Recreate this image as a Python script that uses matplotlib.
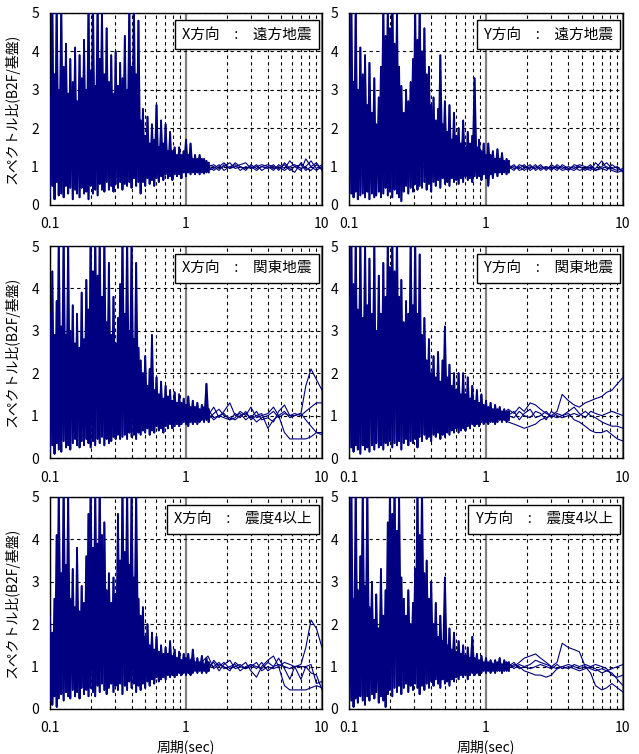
import numpy as np
import matplotlib
matplotlib.use("Agg")
import matplotlib.pyplot as plt
from matplotlib.ticker import LogLocator, NullFormatter, FixedLocator, FixedFormatter

plt.rcParams['font.family'] = ['Noto Sans CJK JP', 'DejaVu Sans']

# short-period grid (dense part) and long-period grid (individual records)
period = [0.100, 0.104, 0.108, 0.112, 0.116, 0.121, 0.126, 0.131, 0.136, 0.141,
          0.147, 0.153, 0.158, 0.165, 0.171, 0.178, 0.185, 0.192, 0.199, 0.207,
          0.215, 0.224, 0.232, 0.241, 0.251, 0.261, 0.271, 0.282, 0.293, 0.304,
          0.316, 0.328, 0.341, 0.355, 0.369, 0.383, 0.398, 0.414, 0.430, 0.447,
          0.464, 0.482, 0.501, 0.521, 0.541, 0.562, 0.584, 0.607, 0.631, 0.656,
          0.681, 0.708, 0.736, 0.764, 0.794, 0.825, 0.858, 0.891, 0.926, 0.962,
          1.000, 1.039, 1.080, 1.122, 1.166, 1.212, 1.259, 1.308, 1.359, 1.413, 1.468]
period_long = [0.9, 1.0, 1.1, 1.2, 1.3, 1.45, 1.6, 1.75, 1.9, 2.1, 2.3, 2.5, 2.75, 3.0,
               3.3, 3.6, 4.0, 4.4, 4.8, 5.3, 5.8, 6.3, 7.0, 7.6, 8.3, 9.1, 10.0]

titles = ["X方向　:　遠方地震", "Y方向　:　遠方地震",
          "X方向　:　関東地震", "Y方向　:　関東地震",
          "X方向　:　震度4以上", "Y方向　:　震度4以上"]

# X 遠方地震
xfar_top = [2.8, 5.2, 3.4, 5.3, 3.0, 5.1, 3.6, 4.2, 2.9, 3.8,
            3.2, 4.1, 2.7, 3.9, 3.3, 4.3, 3.0, 5.2, 3.5, 5.4,
            3.1, 5.3, 3.8, 5.1, 3.4, 4.6, 3.2, 3.9, 2.9, 4.0,
            3.1, 3.7, 3.3, 4.4, 3.0, 5.2, 3.6, 5.3, 3.4, 4.8,
            2.2, 2.5, 1.8, 2.3, 1.6, 2.1, 1.7, 2.6, 1.5, 2.2,
            1.6, 2.1, 1.4, 1.9, 1.4, 1.5, 1.3, 1.5, 1.3, 1.4,
            1.7, 1.3, 1.6, 1.2, 1.3, 1.2, 1.3, 1.2, 1.2, 1.15, 1.1]
xfar_bottom = [0.2, 0.5, 0.15, 0.6, 0.25, 0.3, 0.2, 0.5, 0.3, 0.45,
               0.15, 0.4, 0.3, 0.2, 0.45, 0.3, 0.35, 0.15, 0.5, 0.3,
               0.4, 0.25, 0.55, 0.4, 0.35, 0.6, 0.4, 0.5, 0.35, 0.55,
               0.45, 0.6, 0.4, 0.55, 0.5, 0.6, 0.45, 0.7, 0.5, 0.6,
               0.3, 0.6, 0.5, 0.7, 0.55, 0.65, 0.5, 0.7, 0.6, 0.75,
               0.65, 0.8, 0.7, 0.75, 0.65, 0.8, 0.75, 0.8, 0.7, 0.85,
               0.75, 0.85, 0.8, 0.85, 0.8, 0.85, 0.8, 0.85, 0.82, 0.85, 0.85]
xfar_tails = [
    [1.1, 1.0, 0.95, 1.05, 0.9, 1.0, 1.05, 0.95, 1.0, 1.1, 0.95, 1.0, 0.9, 1.05, 0.95, 1.0, 0.95, 1.05, 0.9, 1.1, 0.95, 0.85, 1.1, 0.95, 0.9, 1.05, 0.95],
    [0.9, 1.05, 1.1, 0.95, 1.05, 0.9, 0.95, 1.05, 0.9, 1.0, 1.05, 0.9, 1.0, 0.95, 1.05, 0.9, 1.0, 0.9, 1.05, 0.95, 1.15, 1.0, 0.9, 1.2, 1.0, 0.9, 1.0],
    [1.0, 1.2, 0.9, 1.0, 1.1, 1.0, 0.9, 1.0, 1.1, 0.95, 1.0, 1.05, 1.1, 0.95, 1.0, 1.05, 1.0, 0.95, 1.0, 0.9, 1.0, 1.05, 0.95, 1.0, 1.15, 0.95, 1.05],
    [1.2, 0.9, 1.05, 1.15, 0.95, 1.05, 1.0, 0.9, 1.05, 0.95, 1.1, 1.0, 0.95, 1.0, 0.9, 1.0, 1.05, 1.0, 0.95, 1.05, 0.9, 1.0, 1.05, 0.9, 1.0, 1.1, 0.9],
]

# Y 遠方地震
yfar_top = [3.6, 5.2, 3.2, 5.3, 3.0, 4.1, 3.4, 3.9, 2.6, 3.7,
            2.4, 3.3, 2.1, 2.8, 3.6, 5.2, 4.4, 5.3, 4.6, 5.4,
            4.2, 5.1, 3.6, 3.1, 2.4, 3.0, 2.7, 3.2, 3.8, 5.2,
            4.3, 5.3, 4.0, 4.6, 3.4, 3.6, 2.6, 2.8, 2.2, 2.5,
            3.9, 2.1, 2.7, 1.9, 2.6, 1.7, 2.4, 1.8, 2.0, 1.6,
            2.2, 1.5, 1.9, 1.6, 1.8, 3.3, 1.5, 1.7, 1.4, 1.6,
            1.3, 1.6, 1.3, 1.4, 1.2, 1.45, 1.2, 1.35, 1.15, 1.2, 1.15]
yfar_bottom = [0.15, 0.3, 0.2, 0.35, 0.15, 0.25, 0.3, 0.2, 0.35, 0.15,
               0.3, 0.2, 0.25, 0.35, 0.2, 0.3, 0.45, 0.25, 0.35, 0.2,
               0.4, 0.3, 0.2, 0.1, 0.35, 0.5, 0.3, 0.45, 0.35, 0.55,
               0.4, 0.5, 0.45, 0.6, 0.4, 0.55, 0.35, 0.6, 0.5, 0.65,
               0.45, 0.7, 0.55, 0.6, 0.5, 0.7, 0.6, 0.65, 0.55, 0.7,
               0.6, 0.75, 0.65, 0.7, 0.6, 0.75, 0.7, 0.75, 0.65, 0.8,
               0.7, 0.5, 0.8, 0.7, 0.85, 0.75, 0.85, 0.8, 0.85, 0.8, 0.85]
yfar_tails = [
    [1.0, 1.1, 0.9, 1.05, 0.95, 1.0, 0.9, 1.05, 1.0, 0.95, 1.05, 0.9, 1.0, 0.95, 1.0, 0.9, 0.95, 1.0, 0.9, 0.95, 1.05, 0.9, 0.95, 1.0, 0.9, 0.85, 0.9],
    [0.9, 0.95, 1.05, 0.9, 1.1, 0.95, 1.05, 0.9, 0.95, 1.05, 0.9, 1.0, 0.95, 1.0, 0.9, 1.05, 0.95, 0.9, 1.0, 0.95, 0.9, 1.1, 0.95, 0.9, 1.05, 0.95, 0.9],
    [1.1, 0.9, 1.0, 0.95, 1.0, 1.05, 0.95, 1.0, 0.9, 1.0, 0.95, 1.05, 0.9, 1.05, 0.95, 1.0, 0.9, 1.05, 1.0, 0.9, 1.0, 0.95, 1.15, 0.95, 0.95, 0.9, 0.95],
    [0.95, 1.05, 0.95, 1.1, 0.9, 0.95, 1.0, 0.95, 1.05, 0.9, 1.0, 0.95, 1.0, 0.9, 1.05, 0.95, 1.0, 0.95, 1.05, 1.0, 0.95, 0.9, 1.0, 1.1, 0.95, 1.0, 0.85],
]

# X 関東地震
xkanto_top = [3.4, 4.4, 2.9, 3.7, 5.2, 3.1, 5.3, 2.9, 5.1, 3.0,
              3.6, 2.7, 3.4, 2.6, 3.9, 2.8, 4.2, 3.5, 5.3, 4.4,
              5.4, 4.3, 5.2, 3.8, 5.1, 3.2, 4.6, 2.9, 3.8, 2.7,
              3.3, 4.1, 5.2, 3.4, 5.3, 3.0, 5.1, 2.8, 4.6, 2.6,
              2.3, 2.0, 2.4, 1.7, 2.1, 2.9, 1.6, 1.9, 1.5, 1.8,
              1.4, 1.7, 1.45, 1.6, 1.35, 1.55, 1.3, 1.5, 1.3, 1.4,
              1.25, 1.45, 1.2, 1.35, 1.2, 1.3, 1.15, 1.25, 1.2, 1.75, 1.15]
xkanto_bottom = [0.15, 0.3, 0.1, 0.35, 0.2, 0.15, 0.4, 0.25, 0.3, 0.2,
                 0.35, 0.45, 0.3, 0.25, 0.4, 0.3, 0.45, 0.35, 0.25, 0.4,
                 0.3, 0.45, 0.35, 0.5, 0.3, 0.45, 0.35, 0.4, 0.5, 0.45,
                 0.55, 0.45, 0.5, 0.55, 0.45, 0.6, 0.5, 0.55, 0.45, 0.6,
                 0.55, 0.65, 0.6, 0.7, 0.55, 0.65, 0.6, 0.75, 0.65, 0.7,
                 0.6, 0.75, 0.7, 0.8, 0.7, 0.75, 0.8, 0.75, 0.8, 0.85,
                 0.8, 0.75, 0.85, 0.8, 0.85, 0.8, 0.85, 0.9, 0.85, 0.9, 0.85]
xkanto_tails = [
    [1.1, 1.0, 1.15, 0.95, 1.1, 1.0, 1.2, 0.95, 1.1, 1.3, 1.0, 1.05, 0.9, 1.0, 0.85, 0.95, 1.0, 1.1, 0.95, 1.05, 1.0, 1.0, 1.05, 1.7, 2.1, 1.85, 1.6],
    [0.9, 1.05, 0.9, 1.1, 0.95, 1.05, 0.9, 1.0, 0.95, 0.9, 1.05, 0.95, 1.1, 0.9, 1.0, 1.05, 0.7, 0.9, 1.0, 0.6, 0.45, 0.45, 0.45, 0.45, 0.5, 0.6, 0.6],
    [1.0, 0.95, 1.05, 0.9, 1.0, 0.9, 1.05, 1.15, 1.0, 0.95, 0.9, 1.0, 1.05, 0.95, 1.1, 0.9, 0.95, 0.85, 1.1, 1.25, 1.0, 1.05, 1.0, 1.1, 1.2, 1.3, 1.3],
    [0.95, 1.1, 1.0, 1.05, 0.9, 1.15, 0.95, 1.0, 1.05, 0.9, 0.95, 1.1, 1.0, 1.2, 0.95, 1.0, 1.05, 1.2, 1.0, 1.1, 0.95, 1.0, 1.05, 0.9, 0.75, 0.6, 0.55],
]

# Y 関東地震
ykanto_top = [3.8, 5.2, 4.1, 5.3, 3.5, 5.1, 3.3, 5.2, 3.6, 4.7,
              3.4, 5.1, 3.0, 4.3, 3.4, 4.6, 3.8, 5.3, 4.5, 5.2,
              4.4, 5.4, 3.8, 4.2, 3.2, 3.7, 3.4, 5.2, 3.6, 5.3,
              3.4, 4.8, 2.9, 3.3, 2.3, 2.8, 2.0, 2.4, 1.9, 2.5,
              1.8, 2.3, 3.1, 1.9, 2.2, 1.7, 2.0, 1.6, 2.0, 1.5,
              2.0, 1.5, 1.9, 1.4, 1.7, 1.35, 1.6, 1.3, 1.5, 1.25,
              1.35, 1.2, 1.3, 1.15, 1.25, 1.15, 1.2, 1.1, 1.15, 1.1, 1.1]
ykanto_bottom = [0.1, 0.25, 0.15, 0.3, 0.2, 0.1, 0.3, 0.2, 0.25, 0.15,
                 0.3, 0.2, 0.35, 0.25, 0.3, 0.2, 0.35, 0.3, 0.4, 0.25,
                 0.35, 0.3, 0.4, 0.2, 0.35, 0.45, 0.3, 0.4, 0.35, 0.45,
                 0.25, 0.5, 0.4, 0.55, 0.45, 0.5, 0.4, 0.55, 0.5, 0.6,
                 0.45, 0.55, 0.5, 0.6, 0.55, 0.65, 0.6, 0.7, 0.6, 0.65,
                 0.7, 0.65, 0.75, 0.7, 0.8, 0.75, 0.8, 0.75, 0.85, 0.8,
                 0.85, 0.8, 0.85, 0.85, 0.8, 0.85, 0.9, 0.85, 0.9, 0.85, 0.9]
ykanto_tails = [
    [1.0, 1.05, 0.95, 1.1, 1.0, 1.15, 1.05, 1.2, 1.1, 1.3, 1.25, 1.15, 1.05, 1.0, 1.1, 1.5, 1.35, 1.25, 1.2, 1.3, 1.35, 1.4, 1.45, 1.55, 1.6, 1.75, 1.9],
    [0.95, 1.0, 1.05, 0.9, 0.95, 0.85, 0.8, 0.75, 0.7, 0.75, 0.8, 0.9, 0.95, 1.0, 0.95, 1.0, 1.05, 0.9, 0.85, 0.75, 0.65, 0.6, 0.6, 0.65, 0.55, 0.45, 0.4],
    [1.05, 0.9, 1.0, 0.95, 1.05, 1.0, 0.95, 1.1, 1.0, 0.95, 1.1, 1.05, 0.9, 1.1, 1.0, 0.95, 1.0, 1.05, 1.0, 1.1, 1.0, 0.95, 0.85, 0.8, 0.75, 0.75, 0.7],
    [0.9, 1.1, 0.95, 1.05, 0.9, 1.0, 1.1, 0.9, 1.05, 1.15, 0.95, 1.0, 1.1, 0.95, 1.05, 1.0, 1.1, 1.2, 1.05, 0.95, 1.1, 1.05, 1.0, 1.05, 1.1, 1.05, 1.0],
]

# X 震度4以上
xint4_top = [2.2, 1.8, 2.6, 4.1, 5.2, 3.2, 5.3, 3.4, 5.1, 2.6,
             3.3, 2.4, 3.8, 2.3, 2.9, 2.5, 3.6, 4.6, 5.3, 3.8,
             5.2, 3.9, 5.4, 4.1, 4.4, 2.8, 3.2, 2.5, 3.1, 2.7,
             4.6, 3.5, 5.2, 3.7, 5.3, 3.4, 5.1, 3.1, 5.2, 2.6,
             2.2, 2.4, 1.7, 2.0, 1.5, 1.8, 1.4, 1.7, 1.35, 1.5,
             1.3, 1.45, 1.3, 1.6, 1.25, 1.4, 1.2, 1.35, 1.15, 1.3,
             1.2, 1.3, 1.15, 1.4, 1.1, 1.2, 1.1, 1.25, 1.05, 1.2, 1.1]
xint4_bottom = [0.2, 0.1, 0.3, 0.05, 0.25, 0.35, 0.2, 0.4, 0.3, 0.25,
                0.45, 0.3, 0.4, 0.25, 0.5, 0.35, 0.45, 0.3, 0.5, 0.4,
                0.3, 0.55, 0.4, 0.6, 0.45, 0.35, 0.5, 0.6, 0.4, 0.55,
                0.45, 0.6, 0.35, 0.55, 0.45, 0.65, 0.5, 0.6, 0.4, 0.55,
                0.45, 0.6, 0.5, 0.65, 0.55, 0.7, 0.6, 0.75, 0.65, 0.7,
                0.75, 0.7, 0.8, 0.75, 0.8, 0.75, 0.8, 0.85, 0.8, 0.85,
                0.8, 0.85, 0.8, 0.85, 0.9, 0.85, 0.9, 0.85, 0.9, 0.85, 0.9]
xint4_tails = [
    [1.1, 0.95, 1.2, 1.0, 1.1, 1.25, 0.95, 1.05, 1.0, 0.9, 1.1, 1.0, 0.95, 1.05, 1.0, 0.95, 1.1, 1.0, 1.05, 1.0, 0.95, 1.0, 1.05, 1.45, 2.1, 1.9, 1.45],
    [0.95, 1.15, 0.9, 1.05, 0.95, 1.0, 1.1, 0.9, 1.05, 1.15, 0.95, 1.0, 1.1, 0.9, 0.75, 1.0, 1.15, 1.25, 1.0, 0.55, 0.45, 0.45, 0.45, 0.45, 0.5, 0.55, 0.5],
    [1.0, 1.05, 0.95, 1.1, 0.9, 1.05, 1.0, 1.1, 0.95, 1.0, 1.05, 0.9, 1.0, 1.05, 0.95, 1.1, 0.9, 1.0, 1.2, 0.95, 0.7, 1.0, 0.7, 1.0, 1.05, 0.6, 0.65],
    [1.05, 0.9, 1.1, 0.95, 1.05, 0.9, 1.15, 1.0, 1.1, 0.95, 1.0, 1.05, 0.95, 1.0, 1.1, 0.9, 1.0, 0.95, 1.0, 1.1, 1.05, 1.0, 1.0, 1.0, 0.85, 0.8, 0.45],
]

# Y 震度4以上
yint4_top = [3.0, 5.2, 2.6, 5.3, 2.8, 3.6, 5.1, 2.9, 5.2, 2.4,
             3.0, 2.1, 2.7, 1.9, 3.3, 2.2, 2.8, 4.4, 5.3, 4.6,
             5.4, 4.2, 5.2, 3.1, 2.6, 2.2, 2.8, 2.0, 2.5, 3.3,
             5.2, 4.1, 5.3, 3.2, 3.5, 2.6, 3.0, 2.0, 2.5, 1.7,
             2.2, 1.6, 3.1, 1.5, 1.9, 1.4, 1.8, 1.35, 1.6, 1.3,
             1.5, 1.25, 1.45, 1.2, 1.7, 1.2, 1.3, 1.15, 1.25, 1.1,
             1.2, 1.1, 1.15, 1.05, 1.15, 1.1, 1.2, 1.05, 1.15, 1.1, 1.1]
yint4_bottom = [0.1, 0.2, 0.05, 0.25, 0.15, 0.3, 0.2, 0.1, 0.3, 0.2,
                0.35, 0.25, 0.4, 0.15, 0.3, 0.2, 0.05, 0.35, 0.45, 0.3,
                0.5, 0.4, 0.55, 0.35, 0.5, 0.6, 0.4, 0.55, 0.45, 0.6,
                0.5, 0.35, 0.55, 0.45, 0.6, 0.5, 0.65, 0.55, 0.7, 0.6,
                0.5, 0.7, 0.6, 0.65, 0.55, 0.7, 0.65, 0.75, 0.7, 0.8,
                0.75, 0.8, 0.7, 0.8, 0.85, 0.8, 0.85, 0.8, 0.85, 0.9,
                0.85, 0.9, 0.85, 0.9, 0.85, 0.9, 0.9, 0.85, 0.9, 0.9, 0.9]
yint4_tails = [
    [1.0, 1.05, 0.95, 1.1, 1.0, 1.05, 1.0, 1.1, 1.2, 1.25, 1.3, 1.2, 1.1, 1.0, 1.1, 1.55, 1.45, 1.4, 1.35, 1.0, 0.85, 0.55, 0.45, 0.5, 0.6, 0.5, 0.4],
    [0.95, 1.0, 1.1, 0.95, 1.0, 0.95, 1.05, 1.0, 0.9, 0.85, 0.8, 0.8, 0.75, 0.8, 0.95, 1.0, 1.05, 1.0, 0.95, 1.0, 0.95, 0.9, 0.95, 0.9, 0.95, 1.0, 1.05],
    [1.05, 0.95, 1.0, 1.05, 0.9, 1.0, 1.1, 0.95, 1.0, 1.05, 1.15, 1.1, 1.05, 1.0, 0.95, 1.0, 0.95, 1.05, 1.0, 1.05, 1.0, 0.95, 0.85, 0.9, 0.85, 0.7, 0.55],
    [0.9, 1.1, 1.0, 0.95, 1.05, 1.1, 0.95, 1.05, 1.0, 0.95, 1.0, 1.05, 1.0, 0.95, 1.05, 0.95, 1.0, 0.95, 0.9, 0.95, 1.0, 1.05, 1.0, 0.95, 0.8, 0.75, 0.8],
]

panels = [
    (xfar_top, xfar_bottom, xfar_tails),
    (yfar_top, yfar_bottom, yfar_tails),
    (xkanto_top, xkanto_bottom, xkanto_tails),
    (ykanto_top, ykanto_bottom, ykanto_tails),
    (xint4_top, xint4_bottom, xint4_tails),
    (yint4_top, yint4_bottom, yint4_tails),
]

navy = '#000080'
W, H = 639, 754
fig = plt.figure(figsize=(W / 100, H / 100), dpi=100)

# axes boxes in pixels: (left, top, width, height)
col_x = [(50, 272), (349, 274)]
row_y = [(13, 192), (246, 212), (497, 212)]

for i, (top, bottom, tails) in enumerate(panels):
    r, c = divmod(i, 2)
    x0, w = col_x[c]
    y0, h = row_y[r]
    ax = fig.add_axes([x0 / W, 1 - (y0 + h) / H, w / W, h / H])

    # dense short-period part: many overlapping records -> spikes
    xs = np.repeat(period, 2)
    ax.plot(xs, np.column_stack([top, bottom]).ravel(), color=navy, lw=1.3, zorder=3)
    ax.plot(xs, np.column_stack([bottom, top]).ravel(), color=navy, lw=1.3, zorder=3)
    for t in tails:
        ax.plot(period_long, t, color=navy, lw=0.8, zorder=3)

    ax.set_xscale('log')
    ax.set_xlim(0.1, 10)
    ax.set_ylim(0, 5)
    ax.xaxis.set_major_locator(FixedLocator([0.1, 1, 10]))
    ax.xaxis.set_major_formatter(FixedFormatter(['0.1', '1', '10']))
    ax.xaxis.set_minor_locator(LogLocator(base=10, subs=np.arange(2, 10)))
    ax.xaxis.set_minor_formatter(NullFormatter())
    ax.set_yticks([0, 1, 2, 3, 4, 5])
    ax.tick_params(which='both', length=0, labelsize=10)
    ax.tick_params(axis='x', pad=9)
    ax.tick_params(axis='y', pad=8)

    ax.set_axisbelow(True)
    ax.xaxis.grid(True, which='minor', color='black', ls=(0, (3, 3)), lw=0.8)
    ax.xaxis.grid(True, which='major', color='#808080', ls='-', lw=1.6)
    ax.yaxis.grid(True, which='major', color='black', ls=(0, (3, 3)), lw=0.8)
    for s in ax.spines.values():
        s.set_color('black')
        s.set_linewidth(1.0)

    ax.text(0.963, 0.895 if r else 0.888, titles[i], transform=ax.transAxes,
            ha='right', va='center', fontsize=10.5, zorder=6,
            bbox=dict(boxstyle='square,pad=0.5', fc='white', ec='black', lw=1.0))

    if c == 0:
        ax.set_ylabel('スペクトル比(B2F/基盤)', fontsize=10)
        ax.yaxis.set_label_coords(-0.11, 0.5)
    if r == 2:
        ax.set_xlabel('周期(sec)', fontsize=10)
        ax.xaxis.set_label_coords(0.5, -0.145)

fig.savefig('out.png', dpi=100)
